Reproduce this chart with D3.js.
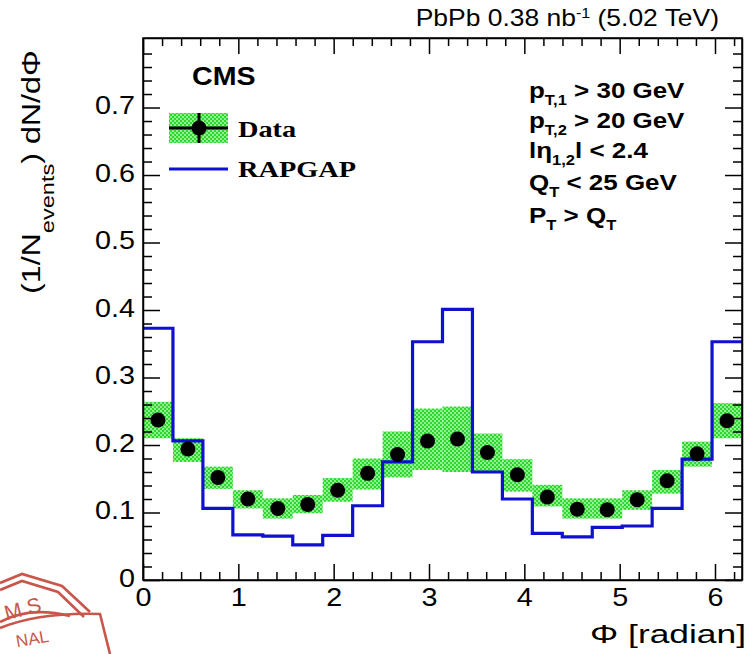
<!DOCTYPE html>
<html>
<head>
<meta charset="utf-8">
<script src="https://cdn.jsdelivr.net/npm/d3@7"></script>
<style>
body { margin: 0; background: #fff; }
</style>
</head>
<body>
<svg id="chart" width="748" height="654"></svg>
<script>
// bin edges: 20 equal bins over [0, 2pi]
var nBins = 20;
var binEdges = d3.range(nBins + 1).map(i => i * 2 * Math.PI / nBins);

// measured data, per bin
var dataVal = [0.237, 0.194, 0.152, 0.120, 0.106, 0.112, 0.133, 0.158, 0.186, 0.206,
               0.209, 0.189, 0.156, 0.123, 0.105, 0.104, 0.119, 0.147, 0.187, 0.236];
var sysLow  = [0.210, 0.175, 0.135, 0.106, 0.091, 0.099, 0.116, 0.134, 0.152, 0.163,
               0.160, 0.160, 0.131, 0.109, 0.091, 0.091, 0.104, 0.128, 0.168, 0.210];
var sysHigh = [0.264, 0.210, 0.168, 0.133, 0.121, 0.126, 0.151, 0.180, 0.220, 0.254,
               0.257, 0.217, 0.179, 0.141, 0.121, 0.121, 0.133, 0.163, 0.205, 0.262];

// RAPGAP prediction, per bin
var rapgap = [0.373, 0.206, 0.106, 0.067, 0.065, 0.052, 0.066, 0.110, 0.175, 0.353,
              0.401, 0.160, 0.120, 0.069, 0.064, 0.078, 0.080, 0.106, 0.179, 0.353];

var xTicks = [0, 1, 2, 3, 4, 5, 6];
var yTicks = [0, 0.1, 0.2, 0.3, 0.4, 0.5, 0.6, 0.7];

var cuts = [
  {main: "p", sub: "T,1", rest: " > 30 GeV"},
  {main: "p", sub: "T,2", rest: " > 20 GeV"},
  {main: "l\u03b7", sub: "1,2", rest: "l < 2.4"},
  {main: "Q", sub: "T", rest: " < 25 GeV"},
  {main: "P", sub: "T", rest: " > Q", sub2: "T"}
];

var width = 748, height = 654;
var margin = {top: 38, right: 6, bottom: 74, left: 143};
var sans = "'Liberation Sans', Helvetica, Arial, sans-serif";
var serif = "'Liberation Serif', Times, serif";
var stretch = 1.15;

var svg = d3.select("#chart");

var x = d3.scaleLinear()
  .domain([0, 2 * Math.PI])
  .range([margin.left, width - margin.right]);

var y = d3.scaleLinear()
  .domain([0, 0.803])
  .range([height - margin.bottom, margin.top]);

var blue = "#1010d0";

// checkered green fill
var defs = svg.append("defs");
var pat = defs.append("pattern")
  .attr("id", "chk")
  .attr("patternUnits", "userSpaceOnUse")
  .attr("width", 4).attr("height", 4);
pat.append("rect").attr("width", 4).attr("height", 4).attr("fill", "#8ef08e");
pat.append("rect").attr("width", 2).attr("height", 2).attr("fill", "#2fd62f");
pat.append("rect").attr("x", 2).attr("y", 2).attr("width", 2).attr("height", 2).attr("fill", "#2fd62f");

var bins = d3.range(nBins).map(i => ({
  x0: binEdges[i], x1: binEdges[i + 1],
  val: dataVal[i], lo: sysLow[i], hi: sysHigh[i], mc: rapgap[i]
}));

// systematic boxes
svg.append("g")
  .selectAll("rect")
  .data(bins)
  .join("rect")
  .attr("x", d => x(d.x0))
  .attr("y", d => y(d.hi))
  .attr("width", d => x(d.x1) - x(d.x0))
  .attr("height", d => y(d.lo) - y(d.hi))
  .attr("fill", "url(#chk)");

// RAPGAP step line
var stepPts = [];
bins.forEach(d => { stepPts.push([d.x0, d.mc]); stepPts.push([d.x1, d.mc]); });
svg.append("path")
  .datum(stepPts)
  .attr("fill", "none")
  .attr("stroke", blue)
  .attr("stroke-width", 3.2)
  .attr("d", d3.line().x(d => x(d[0])).y(d => y(d[1])));

// data markers
svg.append("g")
  .selectAll("circle")
  .data(bins)
  .join("circle")
  .attr("cx", d => x((d.x0 + d.x1) / 2))
  .attr("cy", d => y(d.val))
  .attr("r", 7.5)
  .attr("fill", "#000");

// axes - bottom / left with labels, top / right mirrored
var plotH = height - margin.bottom - margin.top;
var plotW = width - margin.right - margin.left;
var xMinor = d3.range(0, 6.3, 0.2).filter(v => Math.abs(v - Math.round(v)) > 1e-6);
var yMinor = d3.range(0, 0.801, 0.02).filter(v => Math.abs(v * 10 - Math.round(v * 10)) > 1e-6);

function styleAxis(g) {
  g.selectAll("line, path").attr("stroke", "#000").attr("stroke-width", 1.5);
  g.selectAll("text").attr("font-size", 25).attr("fill", "#000")
    .style("font-family", sans)
    .attr("transform", `scale(${stretch},1)`);
}

svg.append("g")
  .attr("transform", `translate(0,${height - margin.bottom})`)
  .call(d3.axisBottom(x).tickValues(xTicks).tickFormat(d3.format("d")).tickSize(-16).tickPadding(4).tickSizeOuter(0))
  .call(styleAxis)
  .call(g => g.selectAll("text").attr("dy", "0.9em"));
svg.append("g")
  .attr("transform", `translate(0,${height - margin.bottom})`)
  .call(d3.axisBottom(x).tickValues(xMinor).tickFormat("").tickSize(-8).tickSizeOuter(0))
  .call(styleAxis)
  .call(g => g.select(".domain").remove());

svg.append("g")
  .attr("transform", `translate(0,${margin.top})`)
  .call(d3.axisTop(x).tickValues(xTicks).tickFormat("").tickSize(-16).tickSizeOuter(0))
  .call(styleAxis);
svg.append("g")
  .attr("transform", `translate(0,${margin.top})`)
  .call(d3.axisTop(x).tickValues(xMinor).tickFormat("").tickSize(-8).tickSizeOuter(0))
  .call(styleAxis)
  .call(g => g.select(".domain").remove());

svg.append("g")
  .attr("transform", `translate(${margin.left},0)`)
  .call(d3.axisLeft(y).tickValues(yTicks).tickFormat(d => d === 0 ? "0" : d3.format(".1f")(d)).tickSize(-17).tickPadding(7).tickSizeOuter(0))
  .call(styleAxis)
  .call(g => g.selectAll("text").attr("dy", "0.25em"));
svg.append("g")
  .attr("transform", `translate(${margin.left},0)`)
  .call(d3.axisLeft(y).tickValues(yMinor).tickFormat("").tickSize(-9).tickSizeOuter(0))
  .call(styleAxis)
  .call(g => g.select(".domain").remove());

svg.append("g")
  .attr("transform", `translate(${width - margin.right},0)`)
  .call(d3.axisRight(y).tickValues(yTicks).tickFormat("").tickSize(-17).tickSizeOuter(0))
  .call(styleAxis);
svg.append("g")
  .attr("transform", `translate(${width - margin.right},0)`)
  .call(d3.axisRight(y).tickValues(yMinor).tickFormat("").tickSize(-9).tickSizeOuter(0))
  .call(styleAxis)
  .call(g => g.select(".domain").remove());

// text helper: place at (px,py) with the wide look of the original fonts
function label(px, py, size, sx, rot) {
  return svg.append("text")
    .attr("transform", `translate(${px},${py})` + (rot ? ` rotate(${rot})` : "") + ` scale(${sx},1)`)
    .attr("font-size", size)
    .style("font-family", sans)
    .attr("fill", "#000");
}

// axis titles
label(width - 2, 643, 26, 1.36).attr("text-anchor", "end").text("\u03a6 [radian]");

var yt = label(40, 294, 26, 1.24, -90);
yt.append("tspan").text("(1/N");
yt.append("tspan").attr("font-size", 19).attr("dy", 14).text("events");
yt.append("tspan").attr("dy", -14).text(") dN/d\u03a6");

// header
var hdr = label(width - 29, 26, 23, stretch).attr("text-anchor", "end");
hdr.append("tspan").text("PbPb 0.38 nb");
hdr.append("tspan").attr("font-size", 14).attr("dy", -8).text("-1");
hdr.append("tspan").attr("dy", 8).text(" (5.02 TeV)");

label(192, 85, 26, 1.1).attr("font-weight", "bold").text("CMS");

// legend
var lg = svg.append("g");
lg.append("rect").attr("x", 169).attr("y", 113).attr("width", 59).attr("height", 30).attr("fill", "url(#chk)");
lg.append("line").attr("x1", 169).attr("x2", 228).attr("y1", 128).attr("y2", 128).attr("stroke", "#000").attr("stroke-width", 3);
lg.append("line").attr("x1", 199).attr("x2", 199).attr("y1", 113).attr("y2", 143).attr("stroke", "#000").attr("stroke-width", 3);
lg.append("circle").attr("cx", 199).attr("cy", 128).attr("r", 7.5).attr("fill", "#000");
lg.append("line").attr("x1", 169).attr("x2", 228).attr("y1", 169).attr("y2", 169).attr("stroke", blue).attr("stroke-width", 3.2);
label(238, 137, 24, 1.18).attr("font-weight", "bold").style("font-family", serif).text("Data");
label(238, 177, 24, 1.18).attr("font-weight", "bold").style("font-family", serif).text("RAPGAP");

// selection cuts
var cutY = [98, 128, 158, 190, 223];
cuts.forEach((c, i) => {
  var t = label(529, cutY[i], 22, 1.18).attr("font-weight", "bold");
  t.append("tspan").text(c.main);
  t.append("tspan").attr("font-size", 14).attr("dy", 7).text(c.sub);
  t.append("tspan").attr("dy", -7).text(c.rest);
  if (c.sub2) t.append("tspan").attr("font-size", 14).attr("dy", 7).text(c.sub2);
});

// approval stamp in the corner (partially cut off)
var red = "#c0392b";
var stamp = svg.append("g")
  .attr("fill", "none").attr("stroke", red).attr("stroke-width", 2.6).attr("opacity", 0.85);
stamp.append("path").attr("d", "M0,583 L22,574 L62,586 L90,612");
stamp.append("path").attr("d", "M0,590 L22,581 L58,592 L84,617");
stamp.append("path").attr("d", "M0,628 Q40,612 100,614 L110,654");
stamp.append("path").attr("d", "M0,622 Q30,606 70,616");
stamp.append("text").attr("x", 4).attr("y", 614).attr("font-size", 21).attr("fill", red).attr("stroke", "none")
  .attr("transform", "rotate(-15,30,608)").style("font-family", sans).text("M  S");
stamp.append("text").attr("x", 16).attr("y", 645).attr("font-size", 17).attr("fill", red).attr("stroke", "none")
  .attr("transform", "rotate(-10,30,640)").style("font-family", sans).text("NAL");

// frame
svg.append("rect")
  .attr("x", margin.left).attr("y", margin.top)
  .attr("width", plotW).attr("height", plotH)
  .attr("fill", "none").attr("stroke", "#000").attr("stroke-width", 1.5);
</script>
</body>
</html>
